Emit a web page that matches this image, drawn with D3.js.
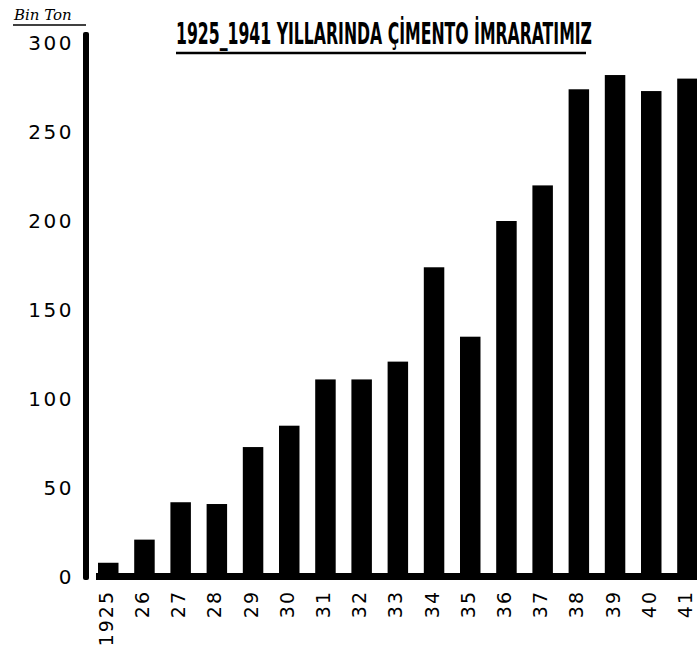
<!DOCTYPE html>
<html>
<head>
<meta charset="utf-8">
<script src="https://cdn.jsdelivr.net/npm/d3@7"></script>
<style>
  html, body { margin: 0; padding: 0; background: #fff; }
  svg { display: block; }
</style>
</head>
<body>
<svg id="chart" width="697" height="658"></svg>
<script>
// cement production 1925-1941, thousand tons
const years = ["1925", "26", "27", "28", "29", "30", "31", "32", "33", "34", "35", "36", "37", "38", "39", "40", "41"];
const values = [8, 21, 42, 41, 73, 85, 111, 111, 121, 174, 135, 200, 220, 274, 282, 273, 280];
const yTicks = [0, 50, 100, 150, 200, 250, 300];
const title = "1925_1941 YILLARINDA ÇİMENTO İMRARATIMIZ";
const unitLabel = "Bin Ton";

const width = 697;
const height = 658;
const svg = d3.select("#chart");
const ink = "#000";
const font = "'DejaVu Sans', sans-serif";

const x = d3.scaleBand()
    .domain(years)
    .range([92, 703.7])
    .paddingInner(0.434)
    .paddingOuter(0.166);

const y = d3.scaleLinear()
    .domain([0, 300])
    .range([577, 43]);

// bars
svg.append("g").selectAll("rect")
    .data(years)
    .enter().append("rect")
    .attr("x", d => x(d))
    .attr("y", (d, i) => y(values[i]))
    .attr("width", x.bandwidth())
    .attr("height", (d, i) => y(0) - y(values[i]))
    .attr("fill", ink);

// thick baseline
svg.append("rect")
    .attr("x", 96)
    .attr("y", y(0) - 4)
    .attr("width", width - 96)
    .attr("height", 7)
    .attr("fill", ink);

// thick y axis
svg.append("rect")
    .attr("x", 83)
    .attr("y", 32)
    .attr("width", 6)
    .attr("height", y(0) + 3 - 32)
    .attr("rx", 2)
    .attr("fill", ink);

// y tick labels
svg.append("g").selectAll("text")
    .data(yTicks)
    .enter().append("text")
    .attr("x", 74)
    .attr("y", d => y(d))
    .attr("dy", "0.36em")
    .attr("text-anchor", "end")
    .attr("font-family", font)
    .attr("font-size", 20)
    .attr("letter-spacing", 2.5)
    .attr("fill", ink)
    .text(d => d);

// x labels, rotated
svg.append("g").selectAll("text")
    .data(years)
    .enter().append("text")
    .attr("transform", d => `translate(${x(d) + x.bandwidth() / 2 - 2},590) rotate(-90)`)
    .attr("dy", "0.34em")
    .attr("text-anchor", "end")
    .attr("font-family", font)
    .attr("font-size", 19)
    .attr("letter-spacing", 2)
    .attr("fill", ink)
    .text(d => d);

// unit label
svg.append("text")
    .attr("x", 14)
    .attr("y", 20)
    .attr("font-family", "'DejaVu Serif', serif")
    .attr("font-style", "italic")
    .attr("font-size", 15)
    .attr("fill", ink)
    .text(unitLabel);
svg.append("line")
    .attr("x1", 13).attr("x2", 86)
    .attr("y1", 25).attr("y2", 25)
    .attr("stroke", ink)
    .attr("stroke-width", 1.5);

// title
svg.append("text")
    .attr("x", 176)
    .attr("y", 44)
    .attr("font-family", "'DejaVu Sans Condensed', 'DejaVu Sans', sans-serif")
    .attr("font-weight", "bold")
    .attr("font-size", 31)
    .attr("textLength", 416)
    .attr("lengthAdjust", "spacingAndGlyphs")
    .attr("fill", ink)
    .text(title);
svg.append("line")
    .attr("x1", 176).attr("x2", 586)
    .attr("y1", 53).attr("y2", 53)
    .attr("stroke", ink)
    .attr("stroke-width", 2.5);
</script>
</body>
</html>
